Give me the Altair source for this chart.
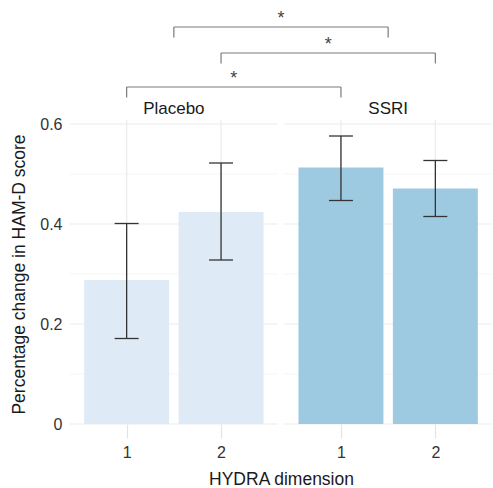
import altair as alt
import pandas as pd

# ---------------- data ----------------
groups = ["Placebo", "SSRI"]
bar_group = ["Placebo", "Placebo", "SSRI", "SSRI"]
bar_dim = [1, 2, 1, 2]
bar_mean = [0.288, 0.424, 0.513, 0.471]
err_low = [0.171, 0.328, 0.447, 0.415]
err_high = [0.401, 0.522, 0.576, 0.527]
bar_colors = ["#deebf7", "#9ecae1"]

y_major = [0, 0.2, 0.4, 0.6]
y_minor = [0.1, 0.3, 0.5]

# significance comparisons (dim 1.5 = the whole group)
cmp_from_group = ["Placebo", "Placebo", "Placebo"]
cmp_from_dim = [1.5, 2, 1]
cmp_to_group = ["SSRI", "SSRI", "SSRI"]
cmp_to_dim = [1.5, 2, 1]
cmp_label = ["*", "*", "*"]

# ---------------- layout ----------------
EXPAND = 0.6
PANEL_W = 2.2
GAP = 0.07
PANEL_TOP = 0.608
LEVELS = [0.794, 0.742, 0.674]
LEG = 0.021
HALF_BAR = 0.45
HALF_CAP = 0.127
FONT = "Liberation Sans"


def off(g):
    return groups.index(g) * (PANEL_W + GAP)


def pos(g, d):
    return d + off(g)


xs = alt.Scale(domain=[1 - EXPAND, PANEL_W + 1 - EXPAND + PANEL_W + GAP], nice=False, zero=False)
ys = alt.Scale(domain=[0, 0.832], nice=False, zero=False)

bars = pd.DataFrame({
    "group": bar_group,
    "dim": bar_dim,
    "mean": bar_mean,
    "lo": err_low,
    "hi": err_high,
})
bars["pos"] = [pos(g, d) for g, d in zip(bar_group, bar_dim)]
bars["x0"] = bars["pos"] - HALF_BAR
bars["x1"] = bars["pos"] + HALF_BAR
bars["c0"] = bars["pos"] - HALF_CAP
bars["c1"] = bars["pos"] + HALF_CAP
bars["zero"] = 0.0

hmaj, hmin, vgrid, heads = [], [], [], []
for g in groups:
    a = 1 - EXPAND + off(g)
    b = a + PANEL_W
    for v in y_major:
        hmaj.append({"x": a, "x2": b, "y": v})
    for v in y_minor:
        hmin.append({"x": a, "x2": b, "y": v})
    for d in sorted(set(bar_dim)):
        vgrid.append({"x": pos(g, d), "y": 0.0, "y2": PANEL_TOP})
    heads.append({"x": (a + b) / 2, "y": 0.63, "t": g})

hmaj = pd.DataFrame(hmaj)
hmin = pd.DataFrame(hmin)
vgrid = pd.DataFrame(vgrid)
heads = pd.DataFrame(heads)

br = pd.DataFrame({
    "xa": [pos(g, d) for g, d in zip(cmp_from_group, cmp_from_dim)],
    "xb": [pos(g, d) for g, d in zip(cmp_to_group, cmp_to_dim)],
    "lab": cmp_label,
    "lev": LEVELS,
})
br["xm"] = (br["xa"] + br["xb"]) / 2
br["lev0"] = br["lev"] - LEG
legs = pd.concat([
    br[["xa", "lev", "lev0"]].rename(columns={"xa": "x"}),
    br[["xb", "lev", "lev0"]].rename(columns={"xb": "x"}),
])

grid_major_col = "#ebebeb"
grid_minor_col = "#f3f3f3"

x_axis = alt.Axis(
    values=[pos(g, d) for g in groups for d in sorted(set(bar_dim))],
    labelExpr="datum.value < %f ? format(datum.value, '.0f') : format(datum.value - %f, '.0f')"
    % (PANEL_W + 1 - EXPAND, PANEL_W + GAP),
    grid=False, domain=False, ticks=True, tickColor="#e3e3e3", tickSize=14, tickWidth=1.2,
    labelFont=FONT, labelFontSize=16, labelColor="#333333", labelPadding=6,
    title="HYDRA dimension", titleFont=FONT, titleFontSize=17.5, titleFontWeight="normal",
    titleColor="#1a1a1a", titlePadding=10,
)
y_axis = alt.Axis(
    values=y_major,
    labelExpr="datum.value == 0 ? '0' : format(datum.value, '.1f')",
    grid=False, domain=False, ticks=False,
    labelFont=FONT, labelFontSize=16, labelColor="#333333", labelPadding=8,
    title="Percentage change in HAM-D score", titleFont=FONT, titleFontSize=17.5,
    titleFontWeight="normal", titleColor="#1a1a1a",
    titleX=-51, titleY=266, titleBaseline="middle", titleAngle=270,
)


def X(f):
    return alt.X(f, scale=xs, axis=x_axis)


def Y(f):
    return alt.Y(f, scale=ys, axis=y_axis)


l_hmin = alt.Chart(hmin).mark_rule(color=grid_minor_col, strokeWidth=0.8).encode(
    x=X("x:Q"), x2="x2:Q", y=Y("y:Q"))
l_hmaj = alt.Chart(hmaj).mark_rule(color=grid_major_col, strokeWidth=1.2).encode(
    x=X("x:Q"), x2="x2:Q", y=Y("y:Q"))
l_vgrid = alt.Chart(vgrid).mark_rule(color=grid_major_col, strokeWidth=1.2).encode(
    x=X("x:Q"), y=Y("y:Q"), y2="y2:Q")

l_bars = alt.Chart(bars).mark_rect().encode(
    x=X("x0:Q"), x2="x1:Q",
    y=Y("zero:Q"), y2="mean:Q",
    color=alt.Color("group:N", scale=alt.Scale(domain=groups, range=bar_colors), legend=None),
)
err_col = "#333333"
l_err = alt.Chart(bars).mark_rule(color=err_col, strokeWidth=1.3).encode(
    x=X("pos:Q"), y=Y("lo:Q"), y2="hi:Q")
l_cap_lo = alt.Chart(bars).mark_rule(color=err_col, strokeWidth=1.3).encode(
    x=X("c0:Q"), x2="c1:Q", y=Y("lo:Q"))
l_cap_hi = alt.Chart(bars).mark_rule(color=err_col, strokeWidth=1.3).encode(
    x=X("c0:Q"), x2="c1:Q", y=Y("hi:Q"))

l_heads = alt.Chart(heads).mark_text(font=FONT, fontSize=17, color="#1a1a1a", baseline="middle").encode(
    x=X("x:Q"), y=Y("y:Q"), text="t:N")

br_col = "#7a7a7a"
l_br = alt.Chart(br).mark_rule(color=br_col, strokeWidth=1.2).encode(
    x=X("xa:Q"), x2="xb:Q", y=Y("lev:Q"))
l_legs = alt.Chart(legs).mark_rule(color=br_col, strokeWidth=1.2).encode(
    x=X("x:Q"), y=Y("lev0:Q"), y2="lev:Q")
l_star = alt.Chart(br).mark_text(font=FONT, fontSize=18, color="#444444", baseline="alphabetic", dy=-3).encode(
    x=X("xm:Q"), y=Y("lev:Q"), text="lab:N")

chart = alt.layer(
    l_hmin, l_hmaj, l_vgrid, l_bars, l_err, l_cap_lo, l_cap_hi, l_heads, l_br, l_legs, l_star
).properties(
    width=422, height=416,
    autosize=alt.AutoSizeParams(type="none"),
    padding={"left": 70, "top": 8, "right": 1, "bottom": 64},
    background="white",
).configure_view(stroke=None)

chart.save("out.html", embed_options={"renderer": "svg", "actions": False})
